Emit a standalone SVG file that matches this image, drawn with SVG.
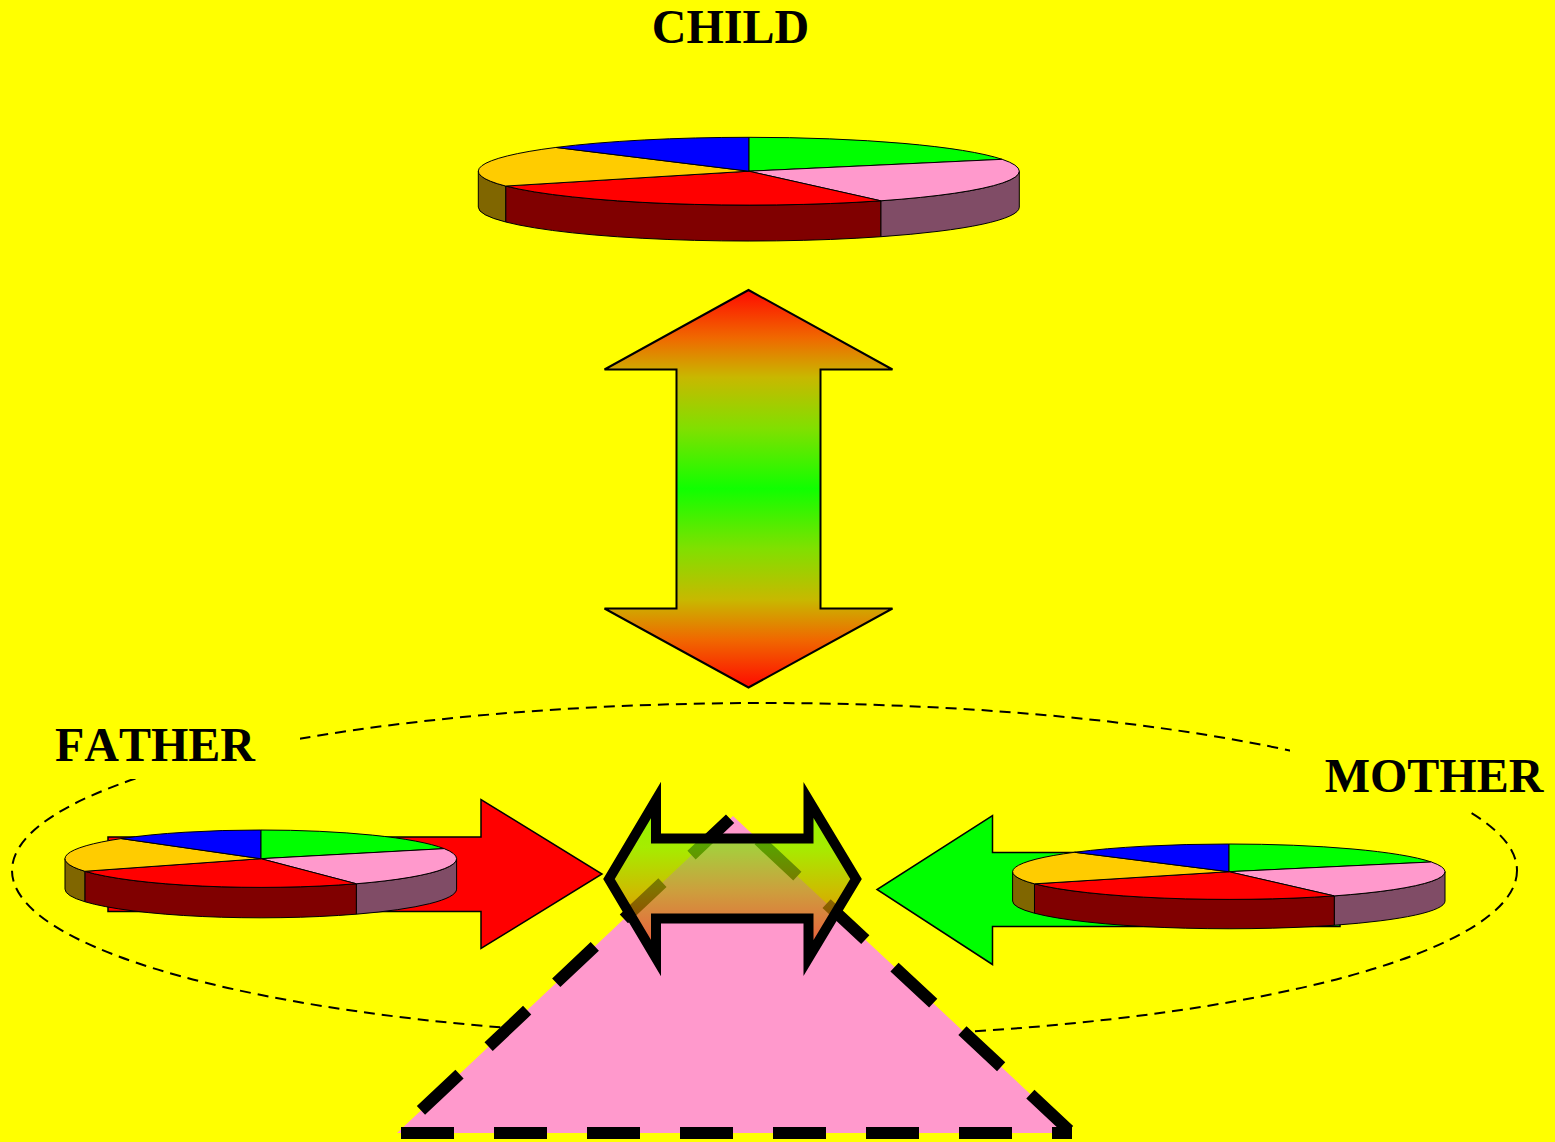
<svg xmlns="http://www.w3.org/2000/svg" xmlns:xlink="http://www.w3.org/1999/xlink" width="1555" height="1142" viewBox="0 0 1555 1142">
  <style>
    .lbl { font-family: "Liberation Serif", "Times New Roman", serif; font-weight: bold; font-size: 48px; fill: #000; text-anchor: middle; font-kerning: none; }
    .ps { stroke: #000; stroke-width: 1; vector-effect: non-scaling-stroke; stroke-linejoin: round; }
    .tri { stroke: #000; stroke-width: 12; stroke-dasharray: 53 40; stroke-dashoffset: -4; fill: none; }
  </style>
  <defs>
    <linearGradient id="gV" x1="0" y1="0" x2="0" y2="1">
      <stop offset="0" stop-color="#ff0a00"/>
      <stop offset="0.12" stop-color="#f06800"/>
      <stop offset="0.22" stop-color="#c8b800"/>
      <stop offset="0.35" stop-color="#80e000"/>
      <stop offset="0.5" stop-color="#10ff00"/>
      <stop offset="0.65" stop-color="#80e000"/>
      <stop offset="0.78" stop-color="#c8b800"/>
      <stop offset="0.88" stop-color="#f06800"/>
      <stop offset="1" stop-color="#ff0a00"/>
    </linearGradient>
    <linearGradient id="gH" x1="0" y1="0" x2="0" y2="1">
      <stop offset="0" stop-color="#60f400"/>
      <stop offset="0.3" stop-color="#80e400"/>
      <stop offset="0.58" stop-color="#b8a000"/>
      <stop offset="1" stop-color="#ee3000"/>
    </linearGradient>
    <g id="pie">
      <path class="ps" fill="#804c66" d="M100,0 A100,100 0 0 1 48.786,87.292 L48.786,193.292 A100,100 0 0 0 100,106 Z"/>
      <path class="ps" fill="#800000" d="M48.786,87.292 A100,100 0 0 1 -89.879,43.837 L-89.879,149.837 A100,100 0 0 0 48.786,193.292 Z"/>
      <path class="ps" fill="#806600" d="M-89.879,43.837 A100,100 0 0 1 -100,0 L-100,106 A100,100 0 0 0 -89.879,149.837 Z"/>
      <path class="ps" fill="#00ff00" d="M0,0 L0,-100 A100,100 0 0 1 93.667,-35.021 Z"/>
      <path class="ps" fill="#ff99cc" d="M0,0 L93.667,-35.021 A100,100 0 0 1 48.786,87.292 Z"/>
      <path class="ps" fill="#ff0000" d="M0,0 L48.786,87.292 A100,100 0 0 1 -89.879,43.837 Z"/>
      <path class="ps" fill="#ffcc00" d="M0,0 L-89.879,43.837 A100,100 0 0 1 -71.325,-70.091 Z"/>
      <path class="ps" fill="#0000ff" d="M0,0 L-71.325,-70.091 A100,100 0 0 1 0,-100 Z"/>
    </g>
  </defs>

  <rect x="0" y="0" width="1555" height="1142" fill="#ffff00"/>

  <g id="group-ellipse">
    <ellipse cx="764.5" cy="870.5" rx="752.5" ry="167.5" fill="none" stroke="#000" stroke-width="2" stroke-dasharray="11 7"/>
  </g>

  <g id="label-father">
    <rect x="10" y="709" width="290" height="70" fill="#ffff00"/>
    <text class="lbl" x="155" y="761">FATHER</text>
  </g>
  <g id="label-mother">
    <rect x="1290" y="741" width="290" height="71" fill="#ffff00"/>
    <text class="lbl" x="1434" y="792">MOTHER</text>
  </g>

  <g id="triangle">
    <polygon points="397,1133 733,816 1072,1133" fill="#ff99cc"/>
    <line class="tri" x1="397" y1="1133" x2="1072" y2="1133"/>
    <line class="tri" x1="1072" y1="1133" x2="733" y2="816"/>
    <line class="tri" x1="733" y1="816" x2="397" y2="1133"/>
  </g>

  <g id="connectors">
    <path id="arrow-father" d="M108,837 L481,837 L481,799.5 L602,874 L481,948.5 L481,911.5 L108,911.5 Z" fill="#ff0000" stroke="#000" stroke-width="1.5"/>
    <path id="arrow-mother" d="M1340,852.5 L992.5,852.5 L992.5,815.5 L877,889.5 L992.5,964.5 L992.5,926.5 L1340,926.5 Z" fill="#00ff00" stroke="#000" stroke-width="1.5"/>
    <path id="arrow-child" d="M748.5,290 L892.5,369.5 L820.5,369.5 L820.5,608.5 L892.5,608.5 L748.5,687.5 L604.5,608.5 L676.5,608.5 L676.5,369.5 L604.5,369.5 Z" fill="url(#gV)" stroke="#000" stroke-width="2"/>
    <path id="arrow-center" d="M609,879 L656,800 L656,838.5 L808.5,838.5 L808.5,800 L856,879 L808.5,958 L808.5,918.5 L656,918.5 L656,958 Z" fill="url(#gH)" fill-opacity="0.7" stroke="#000" stroke-width="10" stroke-linejoin="miter" stroke-miterlimit="10"/>
  </g>

  <g id="pie-father">
    <use xlink:href="#pie" href="#pie" transform="translate(260.8,858.7) scale(1.958,0.287)"/>
  </g>
  <g id="pie-mother">
    <use xlink:href="#pie" href="#pie" transform="translate(1228.8,871.7) scale(2.162,0.277)"/>
  </g>
  <g id="pie-child">
    <use xlink:href="#pie" href="#pie" transform="translate(748.8,171.2) scale(2.705,0.339)"/>
  </g>

  <g id="label-child">
    <text class="lbl" x="730.5" y="43">CHILD</text>
  </g>
</svg>
